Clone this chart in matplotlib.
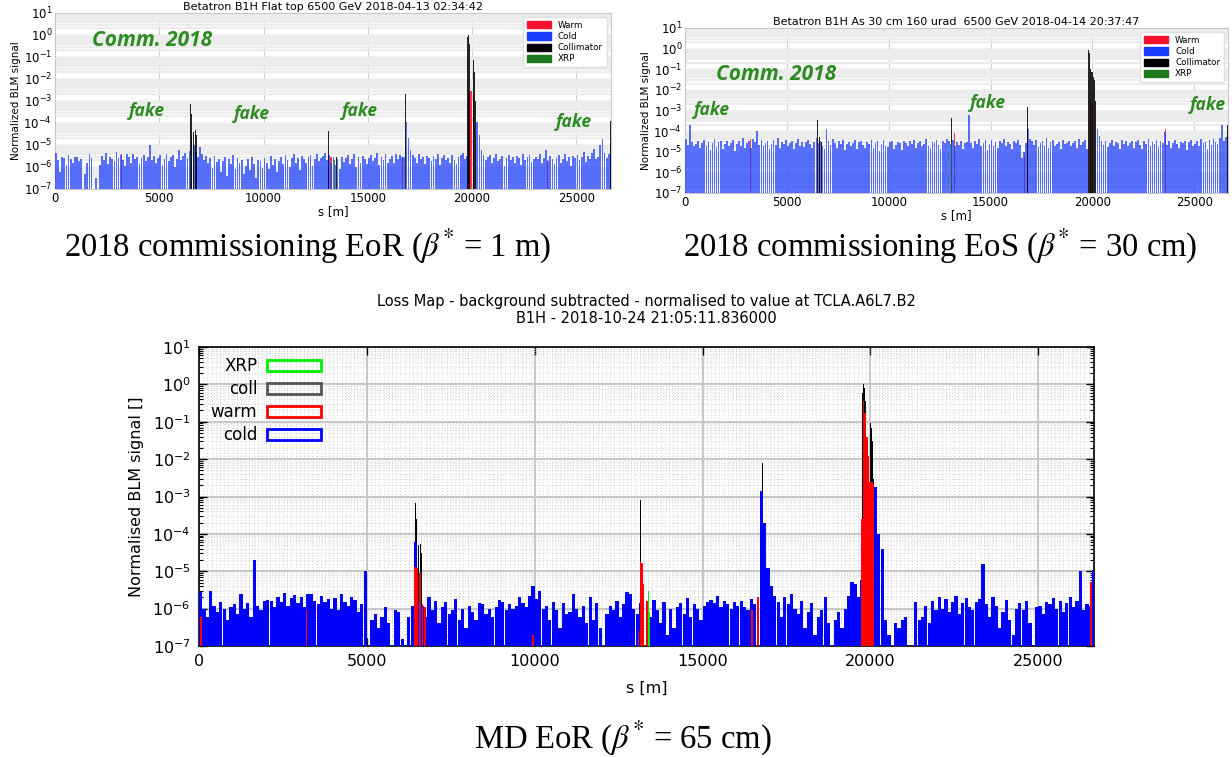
import numpy as np
import matplotlib
matplotlib.use("Agg")
import matplotlib.pyplot as plt
from matplotlib.patches import Patch
from matplotlib.ticker import LogLocator, MultipleLocator, NullFormatter

plt.rcParams['mathtext.fontset'] = 'stix'

# ---------------- data ----------------
BIN = 100.0          # bin width [m] of background monitors
S_MAX = 26659.0

# bottom panel (MD EoR) cold background, units 1e-6
md_cold_e6 = [
    2.8, 1.0, 0.6, 3.0, 1.2, 0.8, 1.5, 1.0, 0.5, 1.1,
    1.3, 0.7, 2.5, 1.0, 1.4, 0.6, 20, 1.2, 0.9, 1.6,
    1.7, 1.6, 1.1, 2.0, 1.5, 2.6, 1.2, 1.9, 2.3, 1.4,
    2.0, 1.1, 2.5, 2.4, 1.6, 1.3, 2.2, 1.5, 1.8, 1.0,
    1.9, 0.9, 2.4, 1.5, 1.2, 2.1, 1.7, 0.8, 1.3, 10,
    0.0, 0.5, 0.7, 0.3, 0.6, 1.1, 0.4, 0.0, 0.9, 0.8,
    0.15, 0.0, 0.6, 1.2, 60, 1.5, 1.2, 0.6, 2.0, 0.9,
    1.6, 0.4, 1.1, 1.5, 0.7, 0.9, 1.8, 0.5, 1.0, 0.3,
    1.2, 0.8, 0.5, 1.4, 1.3, 0.7, 1.0, 0.6, 1.1, 1.7,
    1.5, 0.9, 1.3, 1.0, 1.2, 2.0, 1.4, 1.1, 2.2, 4.0,
    1.8, 3.0, 1.0, 1.2, 0.5, 1.5, 0.9, 0.3, 1.4, 0.7,
    0.8, 2.5, 1.0, 0.6, 1.2, 0.4, 2.0, 0.5, 1.4, 0.3,
    0.0, 0.7, 1.2, 0.9, 1.6, 0.6, 1.3, 2.8, 2.5, 1.0,
    0.7, 1.4, 0.0, 0.5, 0.6, 1.7, 0.9, 0.4, 1.5, 0.2,
    1.0, 0.3, 1.1, 1.4, 0.7, 1.9, 0.6, 1.3, 1.0, 0.5,
    1.2, 1.5, 1.7, 1.4, 2.2, 1.1, 1.6, 1.3, 1.0, 1.5,
    1.2, 1.6, 1.1, 0.9, 1.8, 1.3, 0.0, 1400, 200, 12,
    4.0, 2.2, 1.5, 0.6, 2.0, 1.3, 2.4, 1.0, 0.7, 1.6,
    0.3, 0.8, 1.4, 0.2, 0.6, 0.9, 2.0, 0.4, 0.0, 0.5,
    0.8, 0.3, 1.0, 2.2, 5.0, 4.5, 2.0, 6.0, 0.0, 0.0,
    0.0, 1800, 100, 40, 0.5, 0.2, 0.0, 0.4, 0.3, 0.5,
    0.6, 0.0, 0.0, 1.5, 0.5, 0.6, 1.2, 0.4, 1.6, 0.9,
    2.0, 1.0, 1.8, 0.8, 1.5, 2.2, 0.7, 1.4, 1.9, 1.1,
    0.9, 1.5, 1.8, 16, 1.3, 0.6, 2.0, 1.2, 0.3, 0.8,
    1.7, 0.5, 0.2, 1.0, 1.4, 0.9, 1.6, 0.4, 0.0, 1.1,
    1.2, 0.7, 1.5, 1.3, 1.9, 1.0, 1.6, 0.8, 1.4, 2.0,
    1.1, 1.6, 10, 0.9, 1.3, 1.2, 11,
]
md_warm_s = [50, 3200, 6440, 6500, 6580, 6660, 6730, 9950, 13090, 13150, 13200,
             13240, 13340, 16480, 16660, 19740, 19790, 19840, 19890, 19940, 19990,
             20040, 20090, 26560]
md_warm_v = [6e-7, 9e-7, 1.3e-5, 1.2e-5, 9e-6, 1.3e-6, 1.1e-6, 2e-7, 2.5e-7, 1.8e-5, 1.7e-5,
             4.5e-6, 1.6e-6, 9e-7, 2e-6, 2.5e-4, 0.35, 0.17, 0.04, 0.012, 2.5e-3,
             2.5e-3, 2.2e-3, 5e-6]
md_coll_s = [0, 3160, 6440, 6470, 6530, 6600, 6630, 13160, 16620, 16780, 19760, 19800,
             19830, 19860, 19900, 19960, 20010, 20040, 20070, 20100, 23200, 26540]
md_coll_v = [2e-6, 3e-6, 6.5e-4, 2.5e-4, 5e-5, 5.5e-5, 3e-5, 8e-4, 1.3e-6, 8e-3, 0.6, 1.0,
             0.8, 0.35, 0.12, 0.1, 0.09, 0.07, 0.03, 3e-3, 8e-6, 5e-4]
md_xrp_s = [13380, 13420, 26480]
md_xrp_v = [3e-6, 8e-7, 1.5e-6]

# top-left panel (commissioning EoR) cold background, units 1e-6
eor_cold_e6 = [
    4.5, 2.0, 0.6, 3.0, 2.5, 1.2, 3.5, 2.2, 1.6, 2.8,
    3.0, 1.8, 2.4, 0.0, 0.5, 1.5, 4.0, 2.6, 0.0, 0.3,
    0.0, 1.2, 3.2, 2.0, 4.2, 1.4, 3.0, 2.4, 1.9, 5.0,
    2.6, 3.4, 2.0, 1.1, 3.8, 2.9, 1.5, 4.0, 2.2, 3.0,
    1.4, 2.5, 3.6, 1.9, 2.8, 10, 2.0, 3.3, 1.6, 2.7,
    3.5, 1.2, 2.4, 4.1, 1.8, 2.9, 3.6, 1.0, 2.3, 6.0,
    2.0, 3.2, 4.4, 2.5, 5.5, 30, 10, 5.0, 3.0, 8.0,
    4.0, 2.1, 3.3, 1.5, 2.6, 0.9, 3.1, 1.7, 2.4, 0.6,
    1.9, 3.0, 0.4, 2.2, 1.3, 3.5, 0.8, 2.7, 1.6, 2.0,
    0.5, 1.1, 2.4, 0.7, 3.0, 1.4, 0.3, 2.1, 1.8, 0.9,
    2.6, 1.5, 0.8, 3.2, 1.2, 2.3, 0.6, 1.9, 2.9, 1.3,
    3.4, 2.0, 1.0, 2.7, 3.9, 1.6, 2.5, 0.7, 3.1, 2.2,
    1.5, 2.8, 3.6, 1.1, 2.4, 4.0, 1.8, 2.6, 3.3, 4.5,
    2.0, 3.4, 1.5, 2.8, 1.2, 2.2, 0.8, 3.0, 1.7, 2.5,
    3.6, 1.4, 2.2, 3.8, 1.0, 2.9, 1.6, 3.2, 2.4, 1.3,
    2.7, 3.5, 1.8, 2.5, 4.2, 1.2, 3.0, 2.0, 3.7, 1.6,
    2.4, 3.3, 1.5, 4.0, 2.2, 3.6, 2.8, 3.0, 110, 20,
    6.0, 3.5, 2.6, 1.6, 3.9, 2.2, 2.9, 1.4, 3.2, 2.5,
    1.8, 3.1, 2.4, 3.7, 1.2, 2.7, 3.5, 2.0, 2.6, 1.5,
    3.4, 2.1, 1.3, 2.9, 3.6, 4.5, 2.2, 3.1, 0.0, 0.0,
    0.0, 0.0, 110, 30, 6.0, 3.5, 2.0, 2.8, 3.4, 1.5,
    2.6, 3.8, 1.9, 2.4, 3.2, 1.1, 2.7, 3.6, 2.0, 2.9,
    1.6, 3.3, 2.5, 1.2, 3.9, 2.1, 2.8, 3.5, 1.7, 2.3,
    3.0, 2.2, 3.7, 1.5, 2.6, 6.0, 1.9, 3.3, 2.4, 1.3,
    2.7, 3.4, 1.6, 2.3, 3.8, 1.8, 2.9, 1.1, 3.2, 2.5,
    3.6, 2.0, 2.8, 5.0, 1.7, 3.1, 2.4, 4.2, 6.5, 2.2,
    3.0, 10, 18, 4.5, 2.6, 3.8, 12,
]
eor_warm_s = [3200, 13230, 16660, 19850, 19950, 20050, 23600]
eor_warm_v = [4e-6, 3e-6, 2.5e-6, 2e-3, 3e-3, 2e-3, 2e-6]
eor_coll_s = [6500, 6550, 6650, 6750, 6800, 13100, 13500, 16800, 19780, 19820, 19860,
              19900, 19950, 20000, 20050, 20100, 20150, 23500, 26620]
eor_coll_v = [7e-4, 2.5e-4, 4e-5, 5e-5, 3e-5, 4.5e-5, 3e-6, 2e-3, 0.8, 1.0, 0.4,
              0.15, 0.1, 0.06, 0.07, 0.02, 1e-3, 3e-6, 1.2e-4]
eor_xrp_s = [13400, 26560]
eor_xrp_v = [2e-6, 8e-6]

# top-right panel (commissioning EoS) cold background, units 1e-5
eos_cold_e5 = [
    4.0, 2.2, 20, 3.0, 1.8, 2.5, 3.3, 1.5, 2.8, 3.6,
    2.0, 3.1, 1.2, 2.6, 4.2, 1.7, 2.9, 3.5, 1.4, 2.3,
    3.4, 1.9, 2.7, 3.8, 1.1, 2.4, 3.2, 2.0, 4.5, 1.6,
    2.8, 3.5, 1.5, 4.0, 3.0, 10, 2.2, 3.6, 1.8, 2.6,
    3.3, 1.4, 2.5, 3.9, 2.1, 4.6, 1.6, 3.0, 2.4, 3.7,
    1.9, 2.8, 3.4, 1.3, 2.6, 4.0, 2.0, 3.1, 1.7, 2.9,
    3.6, 2.3, 1.5, 3.0, 4.4, 2.7, 3.2, 2.0, 1.4, 13,
    3.5, 2.1, 4.0, 2.7, 1.6, 3.3, 2.4, 3.8, 1.2, 2.5,
    3.1, 1.8, 2.6, 3.7, 1.3, 2.9, 3.4, 2.2, 1.6, 3.0,
    2.4, 3.6, 1.5, 2.8, 3.3, 1.1, 2.5, 3.9, 2.0, 1.7,
    2.9, 3.5, 1.4, 2.2, 3.0, 2.6, 1.2, 3.4, 2.7, 1.9,
    3.2, 2.4, 3.7, 1.6, 2.8, 3.3, 1.8, 2.5, 4.1, 2.0,
    1.5, 3.0, 2.6, 3.8, 2.1, 1.3, 3.4, 2.7, 4.0, 3.2,
    2.4, 3.6, 1.8, 2.9, 2.2, 3.5, 1.4, 2.6, 3.1, 60,
    2.8, 1.6, 3.3, 2.4, 4.2, 1.9, 2.7, 3.6, 1.2, 2.5,
    3.7, 2.0, 2.9, 1.5, 3.4, 2.6, 4.0, 1.8, 3.1, 2.3,
    1.4, 3.2, 2.7, 3.8, 2.1, 0.5, 1.0, 2.8, 12, 4.0,
    3.3, 2.2, 3.9, 1.7, 2.6, 3.5, 2.0, 4.4, 1.6, 2.9,
    3.6, 1.9, 2.5, 3.1, 1.3, 3.8, 2.4, 2.7, 3.4, 1.8,
    2.6, 3.3, 1.5, 4.0, 2.2, 3.0, 3.7, 1.4, 0.0, 0.0,
    0.0, 0.0, 12, 6.0, 3.5, 2.1, 3.4, 1.7, 2.8, 3.6,
    2.0, 3.1, 2.6, 1.4, 3.9, 2.3, 3.3, 1.8, 2.7, 3.5,
    1.6, 2.9, 3.7, 2.2, 1.3, 3.2, 2.5, 4.1, 1.9, 3.0,
    2.4, 3.6, 1.7, 3.3, 2.8, 9.0, 2.1, 3.4, 1.5, 2.6,
    3.9, 2.3, 1.6, 3.1, 2.7, 3.5, 1.2, 2.9, 3.8, 2.0,
    2.5, 3.4, 1.8, 4.3, 2.6, 3.1, 1.4, 3.7, 2.2, 4.0,
    3.0, 2.4, 4.5, 20, 3.3, 5.0, 6.0,
]
eos_warm_s = [3200, 6600, 13250, 16650, 19900, 20000, 23600]
eos_warm_v = [4e-5, 3e-5, 8e-5, 7e-6, 3e-3, 2e-3, 1.2e-4]
eos_coll_s = [200, 6500, 6600, 6700, 13100, 16800, 19780, 19820, 19860, 19900, 19950,
              20000, 20050, 20100, 20150, 26620]
eos_coll_v = [3e-5, 3.5e-4, 5e-5, 3e-5, 4.5e-4, 1.4e-3, 0.7, 0.9, 0.6, 0.1, 0.07,
              0.07, 0.04, 0.03, 3e-3, 2e-4]
eos_xrp_s = [13100, 13400]
eos_xrp_v = [3e-5, 2e-5]

# texts
eor_title = "Betatron B1H Flat top 6500 GeV 2018-04-13 02:34:42"
eos_title = "Betatron B1H As 30 cm 160 urad  6500 GeV 2018-04-14 20:37:47"
md_title = ("Loss Map - background subtracted - normalised to value at TCLA.A6L7.B2\n"
            "B1H - 2018-10-24 21:05:11.836000")
captions = [r"2018 commissioning EoR ($\beta^{*}$ = 1 m)",
            r"2018 commissioning EoS ($\beta^{*}$ = 30 cm)",
            r"MD EoR ($\beta^{*}$ = 65 cm)"]

BOTTOM = 1e-9

# ---------------- figure ----------------
W, H = 1232, 758
fig = plt.figure(figsize=(W / 100, H / 100), dpi=100)


def ax_px(l, t, r, b):
    return fig.add_axes([l / W, 1 - b / H, (r - l) / W, (b - t) / H])


def bins_centres(vals):
    return np.arange(len(vals)) * BIN + BIN / 2


# ---- top panels (python-style loss maps) ----
TOP_COLORS = dict(warm='#ff1030', cold='#1a3cff', coll='#000000', xrp='#1f7a1f')
GREEN = '#2e8b22'


def top_panel(ax, cold_vals, scale, warm, coll, xrp, title, fakes, comm):
    ax.set_yscale('log')
    ax.set_facecolor('white')
    cold = np.array(cold_vals) * scale
    ax.bar(warm[0], warm[1], width=60, bottom=BOTTOM, color=TOP_COLORS['warm'],
           alpha=0.85, zorder=2, linewidth=0)
    ax.bar(bins_centres(cold), cold, width=85, bottom=BOTTOM, color=TOP_COLORS['cold'],
           alpha=0.72, zorder=3, linewidth=0)
    ax.bar(coll[0], coll[1], width=35, bottom=BOTTOM, color=TOP_COLORS['coll'],
           alpha=0.85, zorder=4, linewidth=0)
    ax.bar(xrp[0], xrp[1], width=40, bottom=BOTTOM, color=TOP_COLORS['xrp'],
           alpha=0.85, zorder=5, linewidth=0)
    ax.set_xlim(0, S_MAX)
    ax.set_ylim(1e-7, 10)
    ax.yaxis.set_major_locator(LogLocator(base=10, numticks=12))
    ax.yaxis.set_minor_locator(LogLocator(base=10, subs=np.arange(2, 10), numticks=12))
    ax.yaxis.set_minor_formatter(NullFormatter())
    ax.xaxis.set_major_locator(MultipleLocator(5000))
    ax.grid(True, which='major', axis='x', color='#d0d0d0', lw=0.8, zorder=0)
    ax.grid(True, which='major', axis='y', color='#d8d8d8', lw=1.0, zorder=0)
    ax.grid(True, which='minor', axis='y', color='#ececec', lw=1.6, zorder=0)
    ax.set_axisbelow(True)
    ax.tick_params(which='both', length=0, labelsize=8.5, pad=2)
    for sp in ax.spines.values():
        sp.set_color('#c8c8c8')
        sp.set_linewidth(0.8)
    ax.set_xlabel('s [m]', fontsize=8.5, labelpad=0)
    ax.set_ylabel('Normalized BLM signal', fontsize=7.5, labelpad=2)
    ax.set_title(title, fontsize=8, pad=2)
    handles = [Patch(color=TOP_COLORS['warm'], label='Warm'),
               Patch(color=TOP_COLORS['cold'], label='Cold'),
               Patch(color=TOP_COLORS['coll'], label='Collimator'),
               Patch(color=TOP_COLORS['xrp'], label='XRP')]
    leg = ax.legend(handles=handles, loc='upper right', fontsize=6.3, frameon=True,
                    handlelength=2.8, handleheight=0.9, labelspacing=0.25,
                    borderpad=0.4, framealpha=1.0, edgecolor='#e0e0e0')
    leg.set_zorder(10)
    for (x, y) in fakes:
        fig.text(x / W, 1 - y / H, 'fake', color=GREEN, fontsize=12.5,
                 fontweight='bold', style='italic', family='Open Sans',
                 ha='center', va='center')
    fig.text(comm[0] / W, 1 - comm[1] / H, 'Comm. 2018', color=GREEN, fontsize=15,
             fontweight='bold', style='italic', family='Open Sans',
             ha='center', va='center')


ax1 = ax_px(55, 13, 611, 189)
top_panel(ax1, eor_cold_e6, 1e-6, (eor_warm_s, eor_warm_v), (eor_coll_s, eor_coll_v),
          (eor_xrp_s, eor_xrp_v), eor_title,
          [(147, 111), (252, 114), (360, 111), (574, 122)], (152, 40))

ax2 = ax_px(685, 28, 1228, 193)
top_panel(ax2, eos_cold_e5, 1e-5, (eos_warm_s, eos_warm_v), (eos_coll_s, eos_coll_v),
          (eos_xrp_s, eos_xrp_v), eos_title,
          [(712, 110), (988, 103), (1208, 105)], (776, 74))

# ---- bottom panel (gnuplot-style) ----
ax3 = ax_px(199, 347, 1094, 646)
ax3.set_yscale('log')
md_cold = np.array(md_cold_e6) * 1e-6
ax3.bar(md_coll_s, md_coll_v, width=22, bottom=BOTTOM, color='#000000', zorder=3, linewidth=0)
ax3.bar(bins_centres(md_cold), md_cold, width=96, bottom=BOTTOM, color='#0000ff',
        zorder=4, linewidth=0)
ax3.bar(md_warm_s, md_warm_v, width=50, bottom=BOTTOM, color='#ff0000', zorder=5, linewidth=0)
ax3.bar(md_xrp_s, md_xrp_v, width=25, bottom=BOTTOM, color='#00ee00', zorder=6, linewidth=0)
ax3.set_xlim(0, S_MAX)
ax3.set_ylim(1e-7, 10)
ax3.yaxis.set_major_locator(LogLocator(base=10, numticks=12))
ax3.yaxis.set_minor_locator(LogLocator(base=10, subs=np.arange(2, 10), numticks=12))
ax3.yaxis.set_minor_formatter(NullFormatter())
ax3.xaxis.set_major_locator(MultipleLocator(5000))
ax3.xaxis.set_minor_locator(MultipleLocator(125))
ax3.grid(True, which='major', color='#c8c8c8', lw=1.5, zorder=0)
ax3.grid(True, which='minor', color='#c4c4c4', lw=0.6, ls=(0, (1, 2.5)), zorder=0)
ax3.set_axisbelow(True)
ax3.tick_params(which='major', direction='in', length=6, width=1.0, top=True, right=True,
                labelsize=11.5, pad=6)
ax3.tick_params(which='minor', direction='in', length=3, width=0.8, top=False, right=True)
ax3.tick_params(axis='x', which='minor', length=0)
for sp in ax3.spines.values():
    sp.set_linewidth(1.2)
ax3.set_xlabel('s [m]', fontsize=11.5, labelpad=8)
ax3.set_ylabel('Normalised BLM signal []', fontsize=11.5, labelpad=6)
fig.text(646 / W, 1 - 310 / H, md_title, fontsize=10.5, ha='center', va='center',
         multialignment='center', linespacing=1.15)
leg_handles = [Patch(facecolor='none', edgecolor='#00ee00', lw=2, label='XRP'),
               Patch(facecolor='none', edgecolor='#555555', lw=2, label='coll'),
               Patch(facecolor='none', edgecolor='#ff0000', lw=2, label='warm'),
               Patch(facecolor='none', edgecolor='#0000ff', lw=2, label='cold')]
leg3 = ax3.legend(handles=leg_handles, loc='upper left', markerfirst=False, frameon=False,
                  fontsize=12, handlelength=3.2, handleheight=0.7, labelspacing=0.3,
                  borderaxespad=0.3, handletextpad=0.6, bbox_to_anchor=(0.0, 1.005))
for t in leg3.get_texts():
    t.set_ha('right')
leg3.set_zorder(10)

# ---- captions ----
cap_kw = dict(fontsize=23.5, family='Liberation Serif', ha='center', va='center')
fig.text(308 / W, 1 - 246 / H, captions[0], **cap_kw)
fig.text(940 / W, 1 - 246 / H, captions[1], **cap_kw)
fig.text(623 / W, 1 - 738 / H, captions[2], **cap_kw)

fig.savefig('out.png', dpi=100)
